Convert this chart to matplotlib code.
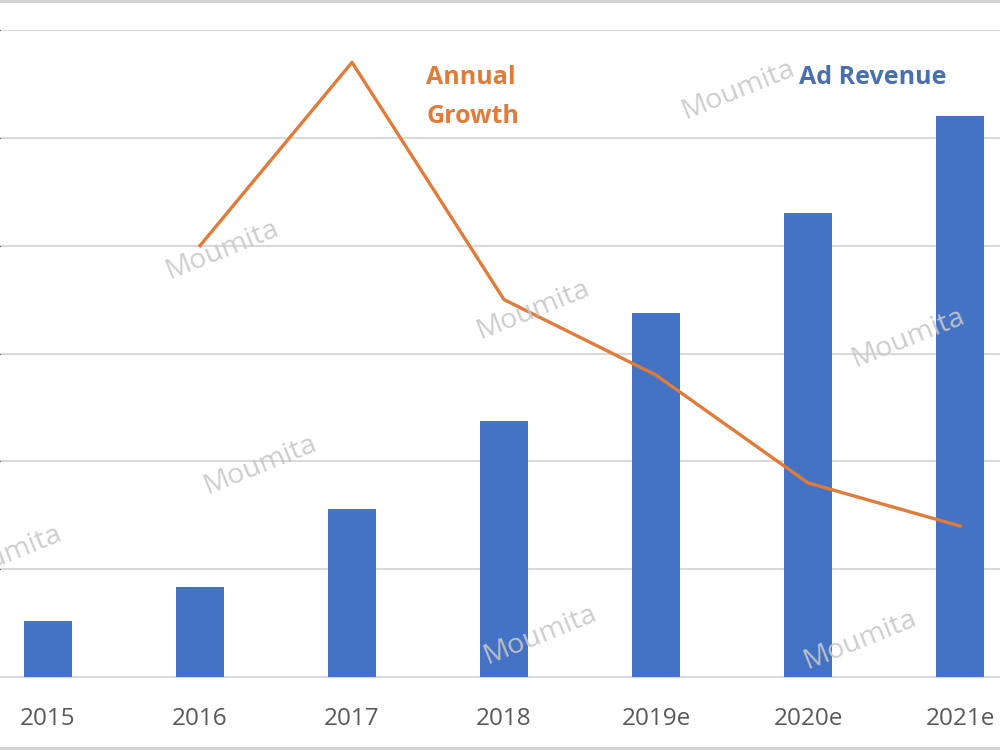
import matplotlib.pyplot as plt
from matplotlib.lines import Line2D

plt.rcParams['font.family'] = ['Open Sans', 'DejaVu Sans']

years = ['2015', '2016', '2017', '2018', '2019e', '2020e', '2021e']
ad_revenue = [1.04, 1.67, 3.12, 4.75, 6.76, 8.61, 10.4]
growth_years = ['2016', '2017', '2018', '2019e', '2020e', '2021e']
annual_growth = [80, 114, 70, 56, 36, 28]

bar_color = '#4472C4'
line_color = '#E07B39'

fig = plt.figure(figsize=(10, 7.5), dpi=100)
# chart is cropped: axes run past both figure edges
ax = fig.add_axes([0, 1 - 677 / 750, 1, (677 - 30) / 750])
x = list(range(len(years)))
ax.bar(x, ad_revenue, width=0.32, color=bar_color, zorder=3)
ax.set_xlim(-48 / 152, (1000 - 48) / 152)
ax.set_ylim(0, 12)
ax.set_yticks(range(0, 13, 2))
ax.yaxis.grid(True, color='#D9D9D9', linewidth=1.5, zorder=0)
ax.tick_params(axis='y', left=False, labelleft=False)
ax.tick_params(axis='x', bottom=False, labelsize=17.5, labelcolor='#595959', pad=18)
ax.set_xticks(x)
ax.set_xticklabels(years)
for s in ['top', 'left', 'right']:
    ax.spines[s].set_visible(False)
ax.spines['bottom'].set_color('#D9D9D9')
ax.spines['bottom'].set_linewidth(1.5)

ax2 = ax.twinx()
ax2.set_ylim(0, 120)
gx = [years.index(y) for y in growth_years]
ax2.plot(gx, annual_growth, color=line_color, linewidth=2.4, zorder=4)
ax2.axis('off')

fig.text(0.426, 1 - 97 / 750, 'Annual\nGrowth', color=line_color, fontsize=18,
         fontweight='bold', ha='left', va='center', linespacing=1.75)
fig.text(0.799, 1 - 77 / 750, 'Ad Revenue', color='#4A6FB0', fontsize=18,
         fontweight='bold', ha='left', va='center')

# watermarks
marks = [(222, 250), (260, 465), (533, 310), (738, 90), (908, 338),
         (540, 635), (860, 640), (5, 555)]
for mx, my in marks:
    fig.text(mx / 1000, 1 - my / 750, 'Moumita', color='#C8C8C8', fontsize=20.5,
             rotation=22, ha='center', va='center', alpha=0.9, zorder=10)

fig.add_artist(Line2D([0, 1], [0.999, 0.999], color='#D0D0D0', linewidth=2))
fig.add_artist(Line2D([0, 1], [0.003, 0.003], color='#D0D0D0', linewidth=2))

fig.savefig('out.png', dpi=100)
